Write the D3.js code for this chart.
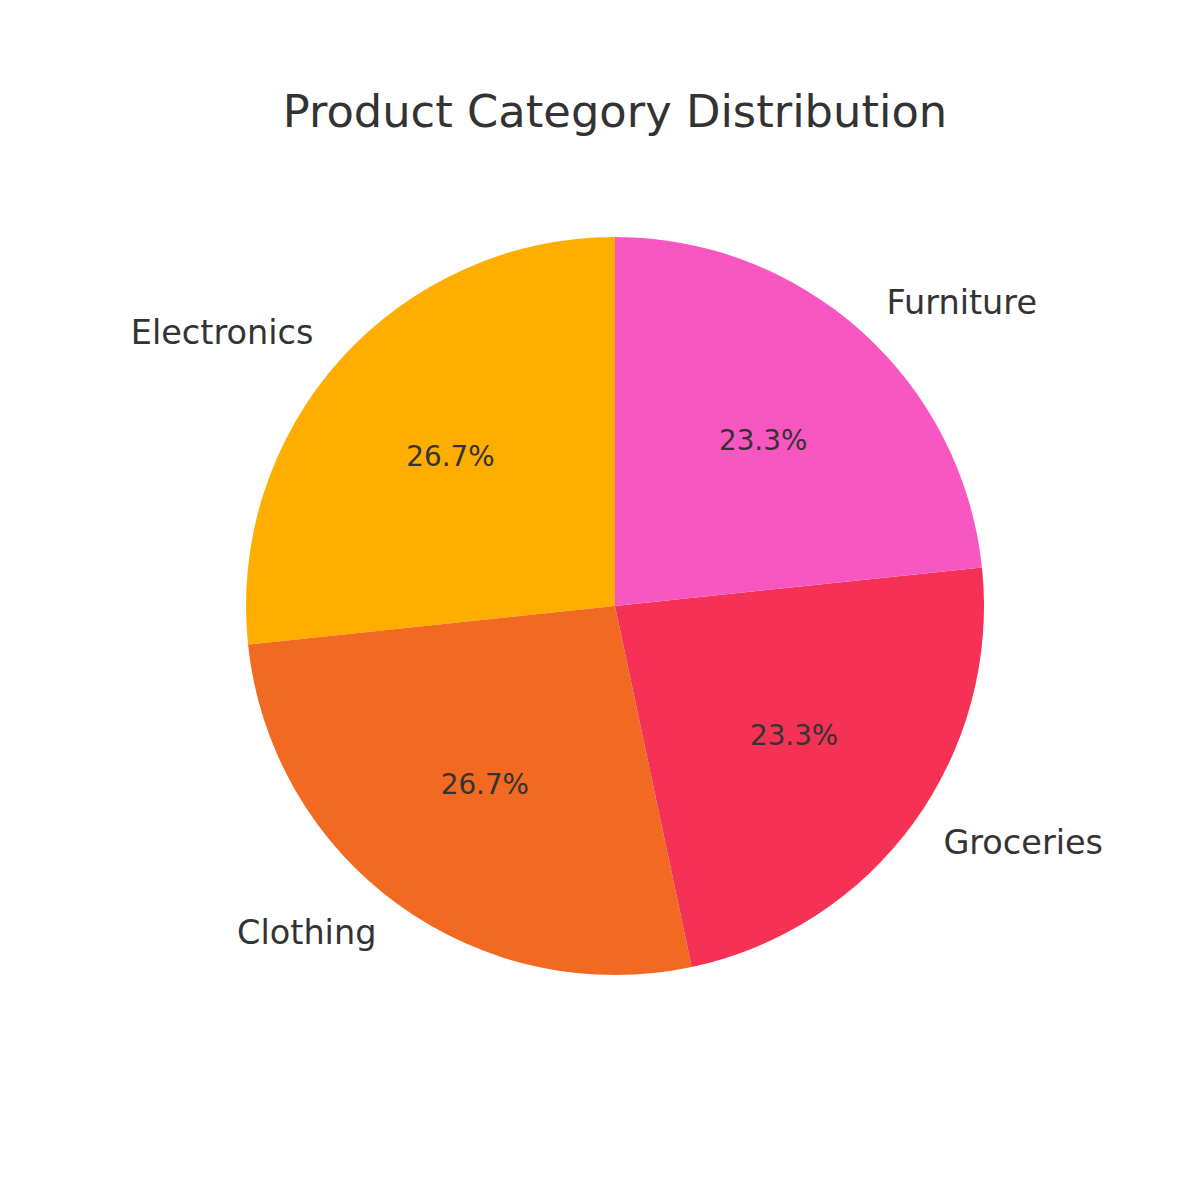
<!DOCTYPE html>
<html>
<head>
<meta charset="utf-8">
<script src="https://cdn.jsdelivr.net/npm/d3@7"></script>
<style>
  body { margin: 0; background: #fff; }
  text { font-family: "DejaVu Sans", sans-serif; fill: #333333; }
</style>
</head>
<body>
<div id="chart"></div>
<script>
// data
const categories = ["Electronics", "Clothing", "Groceries", "Furniture"]
const counts = [8, 8, 7, 7]
const colors = ["#FFAE00", "#F26A21", "#F53255", "#F857C1"]

const width = 1200
const height = 1200
const cx = 615, cy = 606
const radius = 369

const svg = d3.select("#chart")
  .append("svg")
  .attr("width", width)
  .attr("height", height)

svg.append("text")
  .attr("x", cx)
  .attr("y", 111)
  .attr("text-anchor", "middle")
  .attr("dominant-baseline", "central")
  .style("font-size", "44.8px")
  .text("Product Category Distribution")

const data = categories.map((c, i) => ({name: c, value: counts[i], color: colors[i]}))
const total = d3.sum(counts)

// counterclockwise starting from the top, like matplotlib startangle=90
const pie = d3.pie()
  .value(d => d.value)
  .sort(null)
  .startAngle(0)
  .endAngle(-2 * Math.PI)

const arcs = pie(data)
const arc = d3.arc().innerRadius(0).outerRadius(radius)

const g = svg.append("g").attr("transform", `translate(${cx},${cy})`)

g.selectAll("path")
  .data(arcs)
  .join("path")
    .attr("d", arc)
    .attr("fill", d => d.data.color)

const pos = (d, k) => {
  const a = (d.startAngle + d.endAngle) / 2
  return [Math.sin(a) * radius * k, -Math.cos(a) * radius * k]
}

// category labels
g.selectAll("text.label")
  .data(arcs)
  .join("text")
    .attr("class", "label")
    .attr("x", d => pos(d, 1.1)[0])
    .attr("y", d => pos(d, 1.1)[1] - 2)
    .attr("text-anchor", d => pos(d, 1.1)[0] < 0 ? "end" : "start")
    .attr("dominant-baseline", "central")
    .style("font-size", "33.5px")
    .text(d => d.data.name)

// percentages
g.selectAll("text.pct")
  .data(arcs)
  .join("text")
    .attr("class", "pct")
    .attr("x", d => pos(d, 0.6)[0])
    .attr("y", d => pos(d, 0.6)[1] - 1)
    .attr("text-anchor", "middle")
    .attr("dominant-baseline", "central")
    .style("font-size", "27.8px")
    .text(d => (d.data.value / total * 100).toFixed(1) + "%")
</script>
</body>
</html>
